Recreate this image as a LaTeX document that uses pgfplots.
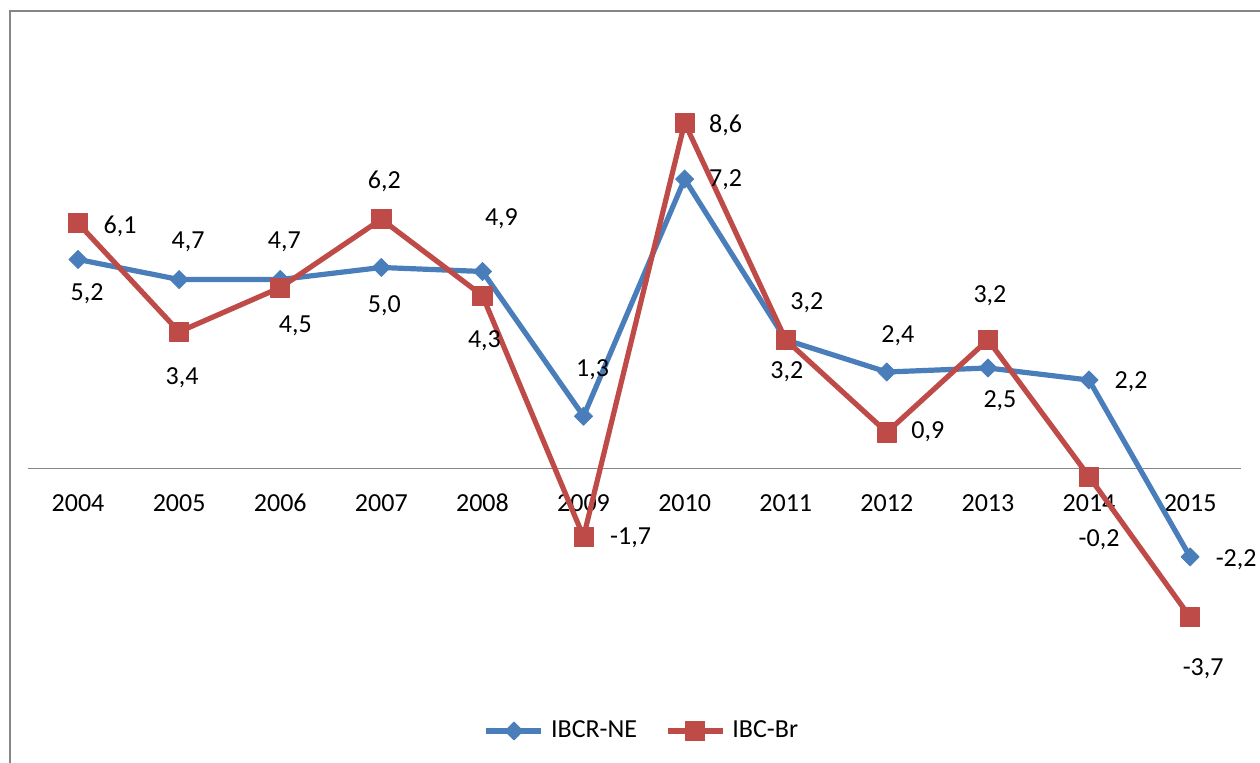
\documentclass[border=0pt]{standalone}
\usepackage{pgfplots}
\pgfplotsset{compat=1.18}
\usepackage{pgfplotstable}
\usepackage{fontspec}
\setmainfont{Carlito}
\definecolor{cne}{HTML}{4A7EBB}
\definecolor{cbr}{HTML}{BE4B48}
\definecolor{axgray}{HTML}{868686}

% x: category index (0 = 2004), y: value, dx/dy: label offset in px (dy upward)
\pgfplotstableread{
x y dx dy
0 5.2 9 -34
1 4.7 9 38
2 4.7 4 38
3 5.0 3 -38
4 4.9 19 53
5 1.3 9 46
6 7.2 41 -1
7 3.2 1 -32
8 2.4 11 36
9 2.5 12 -33
10 2.2 42 -2
11 -2.2 46 -3
}\tabNE

\pgfplotstableread{
x y dx dy
0 6.1 42 -3
1 3.4 3 -46
2 4.5 15 -38
3 6.2 3 38
4 4.3 2 -45
5 -1.7 47 -1
6 8.6 41 -3
7 3.2 21 37
8 0.9 41 1
9 3.2 2 44
10 -0.2 10 -63
11 -3.7 13 -52
}\tabBR

\begin{document}
\begin{tikzpicture}
\useasboundingbox (0,0) rectangle (630pt,381.5pt);
\draw[axgray, line width=0.9pt] (5pt,376pt) rectangle (634pt,-3pt);
\begin{axis}[
  at={(13.75pt,26.65pt)}, anchor=south west,
  scale only axis, width=606.6pt, height=321.6pt,
  xmin=-0.5, xmax=11.5, ymin=-6, ymax=10,
  axis x line=middle, axis y line=none,
  x axis line style={-, draw=axgray, line width=0.75pt},
  xtick={0,1,2,3,4,5,6,7,8,9,10,11},
  xticklabels={2004,2005,2006,2007,2008,2009,2010,2011,2012,2013,2014,2015},
  major tick length=0pt,
  xticklabel style={anchor=base, yshift=-21.5pt, font=\fontsize{13}{15}\selectfont, text=black},
  ytick=\empty,
  clip=false,
  /pgf/number format/use comma,
  /pgf/number format/fixed,
  /pgf/number format/fixed zerofill,
  /pgf/number format/precision=1,
  /pgf/number format/assume math mode=true,
  legend style={at={(axis description cs:0.5065,-0.033)}, anchor=center,
    draw=none, fill=none, font=\fontsize{13}{15}\selectfont,
    /tikz/every odd column/.append style={column sep=2.5pt},
    /tikz/every even column/.append style={column sep=13pt},
    nodes={inner sep=1pt, font=\fontsize{13}{15}\selectfont}},
  legend columns=2,
  legend image code/.code={\draw[mark repeat=2, mark phase=2, #1] plot coordinates {(0pt,0pt) (13.75pt,0pt) (27.5pt,0pt)};},
]
\addplot[color=cne, line width=2.6pt, line join=round,
  mark=square*, mark size=3.2pt,
  mark options={rotate=45, solid, fill=cne, draw=cne, line width=0.4pt},
  point meta=y,
  visualization depends on={\thisrow{dx} \as \dx},
  visualization depends on={\thisrow{dy} \as \dy},
  nodes near coords={\pgfmathprintnumber{\pgfplotspointmeta}},
  every node near coord/.append style={font=\fontsize{13}{15}\selectfont, text=black, anchor=center, xshift=\dx*0.5pt, yshift=\dy*0.5pt}
] table[x=x, y=y] {\tabNE};
\addlegendentry{IBCR-NE}
\addplot[color=cbr, line width=2.6pt, line join=round,
  mark=square*, mark size=4.8pt,
  mark options={solid, fill=cbr, draw=cbr, line width=0.4pt},
  point meta=y,
  visualization depends on={\thisrow{dx} \as \dx},
  visualization depends on={\thisrow{dy} \as \dy},
  nodes near coords={\pgfmathprintnumber{\pgfplotspointmeta}},
  every node near coord/.append style={font=\fontsize{13}{15}\selectfont, text=black, anchor=center, xshift=\dx*0.5pt, yshift=\dy*0.5pt}
] table[x=x, y=y] {\tabBR};
\addlegendentry{IBC-Br}
\end{axis}
\end{tikzpicture}
\end{document}
